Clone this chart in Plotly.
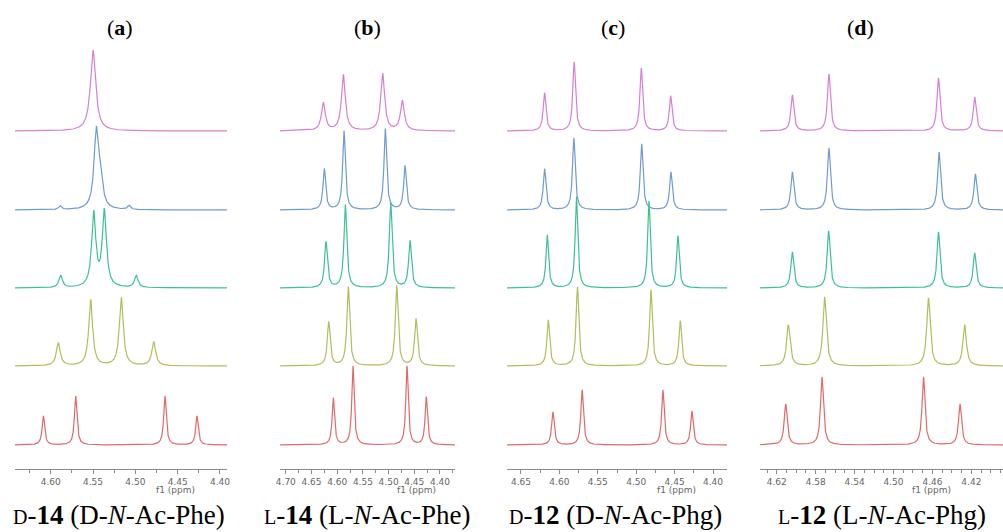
import numpy as np
import plotly.graph_objects as go

W, H = 1003, 532

# ---- data: peak lists (ppm, height, FWHM in ppm) ----
# order in every panel: top (magenta), blue, green, olive, bottom (red)
A_PPM = [[4.5500],
         [4.5890, 4.5461, 4.5410, 4.5075],
         [4.5882, 4.5492, 4.5367, 4.4989],
         [4.5910, 4.5528, 4.5166, 4.4783],
         [4.6087, 4.5705, 4.4650, 4.4272]]
A_H = [[81], [4, 77, 25, 4], [12, 74, 76, 12], [23, 66, 68, 24], [29, 49, 49, 29]]
A_W = [[0.0075], [0.004, 0.0065, 0.006, 0.004], [0.005, 0.0058, 0.0058, 0.005],
       [0.0055, 0.0055, 0.0055, 0.0055], [0.0036, 0.0036, 0.0036, 0.0036]]

B_PPM = [[4.6270, 4.5881, 4.5115, 4.4733],
         [4.6251, 4.5868, 4.5064, 4.4681],
         [4.6218, 4.5842, 4.4959, 4.4584],
         [4.6165, 4.5784, 4.4842, 4.4467],
         [4.6076, 4.5693, 4.4642, 4.4267]]
B_H = [[28, 56, 57, 30], [41, 79, 81, 44], [46, 83, 85, 47], [44, 79, 80, 47], [47, 79, 79, 48]]
B_W = [[0.009, 0.009, 0.009, 0.009], [0.0062, 0.0062, 0.0062, 0.0062],
       [0.0065, 0.0065, 0.0065, 0.0065], [0.0065, 0.0065, 0.0065, 0.0065],
       [0.0055, 0.0055, 0.0055, 0.0055]]

C_PPM = [[4.6193, 4.5808, 4.4934, 4.4552],
         [4.6193, 4.5812, 4.4929, 4.4548],
         [4.6158, 4.5778, 4.4834, 4.4457],
         [4.6145, 4.5765, 4.4808, 4.4427],
         [4.6084, 4.5704, 4.4652, 4.4275]]
C_H = [[38, 69, 63, 35], [41, 72, 66, 38], [53, 91, 87, 52], [46, 79, 76, 45], [33, 55, 55, 34]]
C_W = [[0.0042] * 4, [0.0042] * 4, [0.004] * 4, [0.0042] * 4, [0.004] * 4]

D_PPM = [[4.6040, 4.5664, 4.4538, 4.4166],
         [4.6040, 4.5664, 4.4532, 4.4159],
         [4.6040, 4.5667, 4.4538, 4.4166],
         [4.6081, 4.5708, 4.4641, 4.4269],
         [4.6108, 4.5735, 4.4692, 4.4317]]
D_H = [[36, 57, 53, 34], [38, 62, 58, 36], [36, 57, 56, 35], [41, 69, 68, 41], [41, 68, 68, 41]]
D_W = [[0.0036] * 4, [0.0036] * 4, [0.0036] * 4, [0.0042] * 4, [0.0036] * 4]

PANEL_TITLES = ["a", "b", "c", "d"]
PANEL_LABELS = [
    "<span style='font-size:20px'>D</span>-<b>14</b> (D-<i>N</i>-Ac-Phe)",
    "<span style='font-size:20px'>L</span>-<b>14</b> (L-<i>N</i>-Ac-Phe)",
    "<span style='font-size:20px'>D</span>-<b>12</b> (D-<i>N</i>-Ac-Phg)",
    "<span style='font-size:20px'>L</span>-<b>12</b> (L-<i>N</i>-Ac-Phg)",
]
AXIS_TITLE = "f1 (ppm)"
MAJOR_TICKS = [[4.60, 4.55, 4.50, 4.45, 4.40],
               [4.70, 4.65, 4.60, 4.55, 4.50, 4.45, 4.40],
               [4.65, 4.60, 4.55, 4.50, 4.45, 4.40],
               [4.62, 4.58, 4.54, 4.50, 4.46, 4.42]]
MINOR_STEP = [0.025, 0.025, 0.025, 0.01]

COLORS = ["#d77fd4", "#6f9bd3", "#3cc28f", "#aebf5c", "#e06a6a"]

# ---- layout geometry (pixels) ----
X_RANGES = [[4.6422, 4.3917], [4.7113, 4.3708], [4.6682, 4.3818], [4.6372, 4.3875]]
X_DOMAINS_PX = [[15, 227], [280, 455], [507, 727], [760, 1003]]
BASELINES_PX = [131, 210, 288, 366, 445]   # from top
AXIS_Y_PX = 469
TITLE_X_PX = [120, 367, 613, 860]
LABEL_X_PX = [119, 367, 615, 882]
F1_X_PX = [175, 416, 676, 931]

fig = go.Figure()
peaks = [(A_PPM, A_H, A_W), (B_PPM, B_H, B_W), (C_PPM, C_H, C_W), (D_PPM, D_H, D_W)]

for p, (PPM, HH, WW) in enumerate(peaks):
    xa = "x" if p == 0 else f"x{p+1}"
    x = np.linspace(X_RANGES[p][0], X_RANGES[p][1], 1600)
    for s in range(5):
        base = H - BASELINES_PX[s]
        y = np.full_like(x, float(base))
        for c, h, w in zip(PPM[s], HH[s], WW[s]):
            y = y + h / (1.0 + ((x - c) / (w / 2.0)) ** 2)
        fig.add_trace(go.Scatter(x=x, y=y, mode="lines", xaxis=xa, yaxis="y",
                                 line=dict(color=COLORS[s], width=1.2),
                                 showlegend=False, hoverinfo="skip"))

layout = dict(
    width=W, height=H, margin=dict(l=0, r=0, t=0, b=0, autoexpand=False),
    paper_bgcolor="white", plot_bgcolor="white", showlegend=False,
    yaxis=dict(range=[0, H], domain=[0, 1], visible=False, fixedrange=True),
)
for p in range(4):
    key = "xaxis" if p == 0 else f"xaxis{p+1}"
    lo, hi = X_RANGES[p]
    mn = min(lo, hi)
    mx = max(lo, hi)
    step = MINOR_STEP[p]
    minor_vals = [round(v, 4) for v in np.arange(4.30, 4.80, step) if mn <= v <= mx]
    layout[key] = dict(
        domain=[X_DOMAINS_PX[p][0] / W, X_DOMAINS_PX[p][1] / W],
        range=[lo, hi], anchor="free", position=(H - AXIS_Y_PX) / H,
        showline=True, linecolor="#8a8a8a", linewidth=1,
        showgrid=False, zeroline=False, automargin=False,
        tickmode="array", tickvals=MAJOR_TICKS[p],
        ticktext=[f"{v:.2f}" for v in MAJOR_TICKS[p]],
        ticks="outside", ticklen=4, tickcolor="#8a8a8a", tickwidth=1,
        minor=dict(tickmode="array", tickvals=minor_vals, ticks="outside",
                   ticklen=3, tickcolor="#8a8a8a", tickwidth=1, showgrid=False),
        tickfont=dict(family="DejaVu Sans", size=9, color="#666666"),
        fixedrange=True,
    )
fig.update_layout(**layout)

for p in range(4):
    fig.add_annotation(x=TITLE_X_PX[p] / W, y=1 - 28 / H, xref="paper", yref="paper",
                       text=f"(<b>{PANEL_TITLES[p]}</b>)", showarrow=False,
                       font=dict(family="Liberation Serif", size=22, color="black"),
                       xanchor="center", yanchor="middle")
    fig.add_annotation(x=LABEL_X_PX[p] / W, y=1 - 515 / H, xref="paper", yref="paper",
                       text=PANEL_LABELS[p], showarrow=False,
                       font=dict(family="Liberation Serif", size=27, color="black"),
                       xanchor="center", yanchor="middle")
    fig.add_annotation(x=F1_X_PX[p] / W, y=1 - 490 / H, xref="paper", yref="paper",
                       text=AXIS_TITLE, showarrow=False,
                       font=dict(family="DejaVu Sans", size=9, color="#666666"),
                       xanchor="center", yanchor="middle")

fig.write_html(
    "out.html",
    config={"displayModeBar": False},
    post_script="document.body.style.margin='0';document.body.style.padding='0';"
                "document.documentElement.style.overflow='hidden';",
)
